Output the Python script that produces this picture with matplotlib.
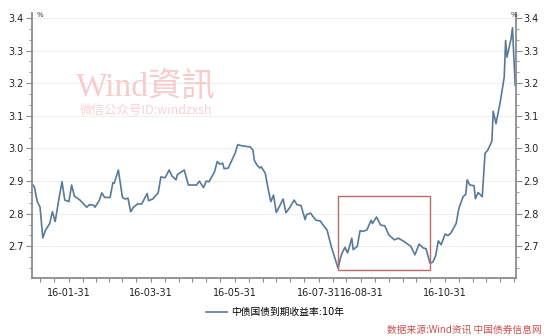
import numpy as np
import pandas as pd
import matplotlib
matplotlib.use('Agg')
import matplotlib.pyplot as plt
import matplotlib.dates as mdates
from matplotlib.ticker import MultipleLocator, AutoMinorLocator
from matplotlib.patches import Rectangle

# 拉丁字符用DejaVu, 中文回退到Noto CJK
plt.rcParams['font.family'] = ['DejaVu Sans', 'Noto Sans CJK SC']
plt.rcParams['axes.unicode_minus'] = False

# 2016年内第几天(1月1日=0)
day = [3, 4, 5, 6, 7, 9, 11, 13, 14, 16, 18, 20, 23, 25, 27, 30, 32, 34, 38, 43,
       45, 48, 49, 52, 54, 56, 60, 62, 63, 66, 69, 71, 73, 75, 77, 80, 83, 87, 88, 91,
       95, 97, 100, 103, 105, 108, 109, 114, 117, 123, 125, 128, 130, 132, 136, 138, 140, 142, 143, 146,
       151, 153, 156, 162, 164, 165, 167, 169, 170, 173, 175, 177, 179, 181, 183, 186, 188, 191, 194, 196,
       199, 202, 203, 206, 208, 210, 213, 215, 218, 221, 226, 228, 229, 231, 233, 236, 237, 240, 242, 244,
       247, 250, 251, 254, 257, 260, 263, 267, 270, 274, 279, 282, 285, 288, 290, 293, 295, 297, 299, 301,
       304, 306, 308, 312, 314, 317, 319, 320, 322, 325, 326, 328, 331, 333, 335, 338, 339, 341, 344, 347,
       348, 349, 352, 353, 355]
# 中债国债到期收益率:10年 (%)
yield_10y = [2.887, 2.888, 2.880, 2.857, 2.837, 2.820, 2.726, 2.750, 2.756, 2.770,
             2.806, 2.776, 2.852, 2.898, 2.842, 2.837, 2.888, 2.854, 2.842, 2.820,
             2.828, 2.826, 2.820, 2.840, 2.864, 2.850, 2.850, 2.895, 2.893, 2.934,
             2.850, 2.845, 2.848, 2.806, 2.820, 2.830, 2.830, 2.862, 2.840, 2.845,
             2.864, 2.913, 2.910, 2.934, 2.916, 2.904, 2.920, 2.934, 2.888, 2.888,
             2.900, 2.880, 2.900, 2.898, 2.928, 2.960, 2.952, 2.955, 2.938, 2.940,
             2.985, 3.012, 3.008, 3.005, 2.995, 2.964, 2.949, 2.940, 2.944, 2.924,
             2.878, 2.837, 2.857, 2.804, 2.820, 2.845, 2.803, 2.820, 2.842, 2.828,
             2.825, 2.782, 2.797, 2.802, 2.790, 2.780, 2.778, 2.766, 2.750, 2.700,
             2.633, 2.668, 2.680, 2.697, 2.680, 2.725, 2.690, 2.700, 2.748, 2.746,
             2.750, 2.780, 2.770, 2.790, 2.765, 2.763, 2.735, 2.720, 2.725, 2.715,
             2.700, 2.674, 2.707, 2.695, 2.693, 2.648, 2.652, 2.670, 2.717, 2.705,
             2.738, 2.733, 2.740, 2.770, 2.817, 2.852, 2.860, 2.904, 2.888, 2.886,
             2.846, 2.865, 2.852, 2.985, 2.995, 3.022, 3.114, 3.076, 3.140, 3.219,
             3.331, 3.280, 3.337, 3.370, 3.193]

label_dates = ['2016-01-31', '2016-03-31', '2016-05-31', '2016-07-31', '2016-08-31', '2016-10-31']

t0 = pd.Timestamp('2016-01-01')
dates = t0 + pd.to_timedelta(day, unit='D')
x = mdates.date2num(dates)

line_color = '#587a99'
axis_color = '#8c8c8c'

fig = plt.figure(figsize=(5.5, 3.36), dpi=100)
ax = fig.add_axes([0.0576, 0.1726, 0.8804, 0.7884])

line, = ax.plot(x, yield_10y, color=line_color, lw=1.2, label='中债国债到期收益率:10年')

# 红框
bx0 = mdates.date2num(t0 + pd.Timedelta(days=226))
bx1 = mdates.date2num(t0 + pd.Timedelta(days=293))
ax.add_patch(Rectangle((bx0, 2.628), bx1 - bx0, 0.226, fill=False,
                       edgecolor='#b86b6b', lw=1.0, zorder=3))

ax.set_xlim(mdates.date2num(t0 + pd.Timedelta(days=2.9)),
            mdates.date2num(t0 + pd.Timedelta(days=355.5)))
ax.set_ylim(2.603, 3.415)

# x轴刻度: 每月10日、20日和月末
ticks = []
for m in range(1, 13):
    for d in (10, 20):
        ticks.append(pd.Timestamp(2016, m, d))
    ticks.append(pd.Timestamp(2016, m, 1) + pd.offsets.MonthEnd(0))
lo, hi = ax.get_xlim()
ticks = [tt for tt in ticks if lo <= mdates.date2num(tt) <= hi]
labels = [tt.strftime('%y-%m-%d') if tt.strftime('%Y-%m-%d') in label_dates else '' for tt in ticks]
ax.set_xticks(mdates.date2num(ticks))
ax.set_xticklabels(labels)

ax.yaxis.set_major_locator(MultipleLocator(0.1))
ax.yaxis.set_minor_locator(AutoMinorLocator(3))
ax.yaxis.set_major_formatter(matplotlib.ticker.FormatStrFormatter('%.1f'))
ax.yaxis.grid(True, color='#efefef', lw=0.8)
ax.set_axisbelow(True)

ax.tick_params(axis='y', which='both', left=True, right=True, labelleft=True, labelright=True,
               color=axis_color, labelsize=7, labelcolor='#222222', pad=1.5)
ax.tick_params(axis='y', which='major', length=4)
ax.tick_params(axis='y', which='minor', length=2.5)
ax.tick_params(axis='x', length=3, color=axis_color, labelsize=7, labelcolor='#222222', pad=4)

ax.spines['top'].set_visible(False)
for s in ('left', 'right', 'bottom'):
    ax.spines[s].set_color(axis_color)
    ax.spines[s].set_linewidth(1.3)

fig.text(0.066, 0.955, '%', fontsize=5, color='#333333', va='center')
fig.text(0.928, 0.955, '%', fontsize=5, color='#333333', va='center')

# 水印
fig.text(0.265, 0.74, 'Wind資訊', fontsize=24, color='#f6cccc', ha='center', va='center',
         family=['Liberation Serif', 'Noto Sans CJK TC'])
fig.text(0.265, 0.67, '微信公众号ID:windzxsh', fontsize=9, color='#f6d2d2', ha='center', va='center',
         family=['Noto Sans CJK SC', 'Liberation Serif'])

fig.legend(handles=[line], loc='center', bbox_to_anchor=(0.5, 0.071), frameon=False,
           fontsize=7, handlelength=2.2, handletextpad=0.4)

fig.text(0.985, 0.018, '数据来源:Wind资讯 中国债券信息网', fontsize=7, color='#c9504f',
         ha='right', va='center', style='italic', family=['Noto Sans CJK SC', 'DejaVu Sans'])

fig.savefig('out.png', dpi=100)
